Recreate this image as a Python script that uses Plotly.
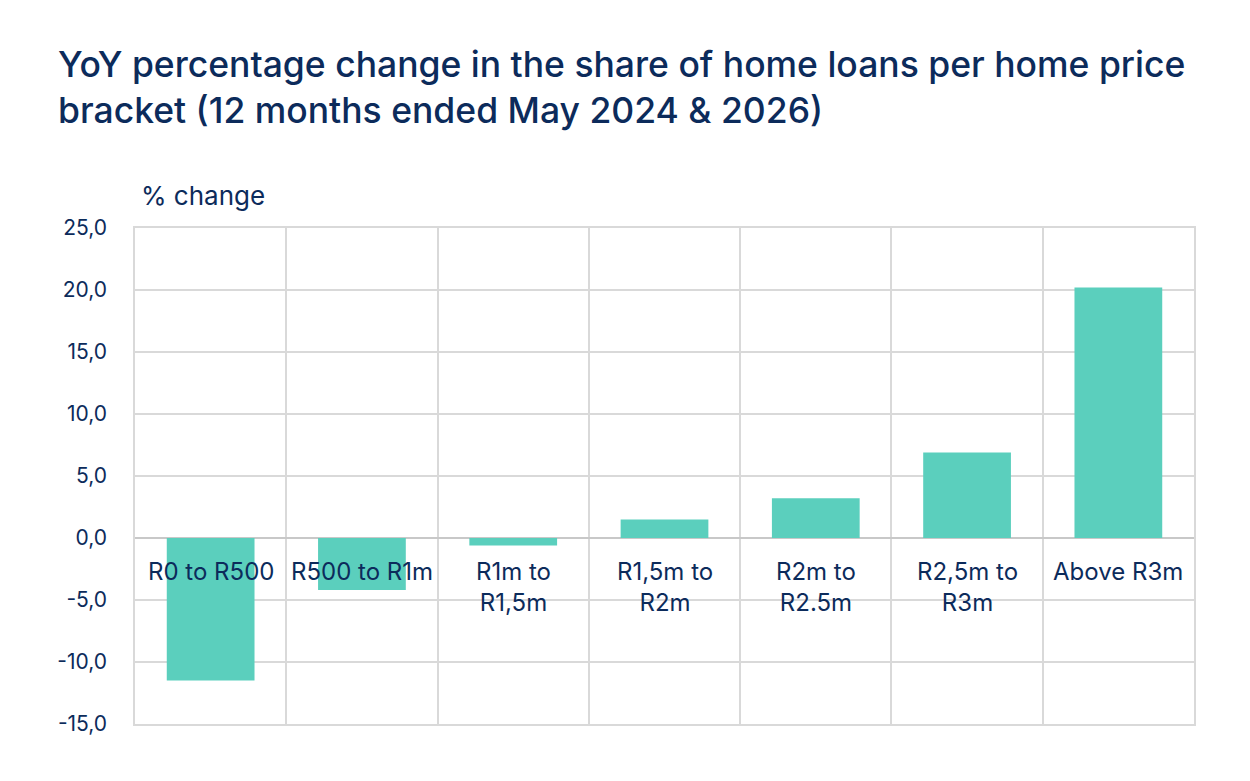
import plotly.graph_objects as go

categories = ["R0 to R500", "R500 to R1m", "R1m to<br>R1,5m", "R1,5m to<br>R2m",
              "R2m to<br>R2.5m", "R2,5m to<br>R3m", "Above R3m"]
values = [-11.5, -4.2, -0.6, 1.5, 3.2, 6.9, 20.2]
y_ticks = [-15, -10, -5, 0, 5, 10, 15, 20, 25]
y_ticktext = [f"{v:.1f}".replace(".", ",") for v in y_ticks]

NAVY = "#0c2b5b"
GRID = "#d9d9d9"
BAR = "#5bcfbd"
FONT = "Inter"

xpos = list(range(len(categories)))

fig = go.Figure()
fig.add_trace(go.Bar(x=xpos, y=values, marker_color=BAR, marker_line_width=0, width=0.58))

for i, c in enumerate(categories):
    fig.add_annotation(x=i, y=0, xref="x", yref="y", text=c, showarrow=False,
                       yanchor="top", yshift=-17, font=dict(family=FONT, size=24, color=NAVY))

fig.add_annotation(xref="paper", yref="paper", x=0.0, y=1.0, xanchor="left",
                   yanchor="bottom", xshift=4, yshift=15, text="% change", showarrow=False,
                   font=dict(family=FONT, size=26, color=NAVY))

fig.update_layout(
    width=1250, height=781,
    margin=dict(l=135, r=56, t=228, b=57),
    paper_bgcolor="white", plot_bgcolor="white",
    showlegend=False,
    title=dict(text="YoY percentage change in the share of home loans per home price<br>bracket (12 months ended May 2024 & 2026)",
               x=58 / 1250, xanchor="left", y=1 - 77 / 781, yanchor="top",
               font=dict(family=FONT, size=35.5, color=NAVY, weight=500)),
    bargap=0.42,
)
fig.update_xaxes(range=[-0.5, len(categories) - 0.5],
                 tickvals=[i - 0.5 for i in range(len(categories) + 1)],
                 showticklabels=False, showgrid=True, gridcolor=GRID, gridwidth=1.5,
                 showline=True, linecolor=GRID, linewidth=1.5, mirror=True, zeroline=False, ticks="")
fig.update_yaxes(range=[-15, 25], tickvals=y_ticks, ticktext=y_ticktext,
                 showgrid=True, gridcolor=GRID, gridwidth=1.5,
                 showline=True, linecolor=GRID, linewidth=1.5, mirror=True,
                 zeroline=True, zerolinecolor="#c8c8c8", zerolinewidth=1.5,
                 ticks="", ticklabelstandoff=22,
                 tickfont=dict(family=FONT, size=21, color=NAVY))

fig.write_html("out.html")
